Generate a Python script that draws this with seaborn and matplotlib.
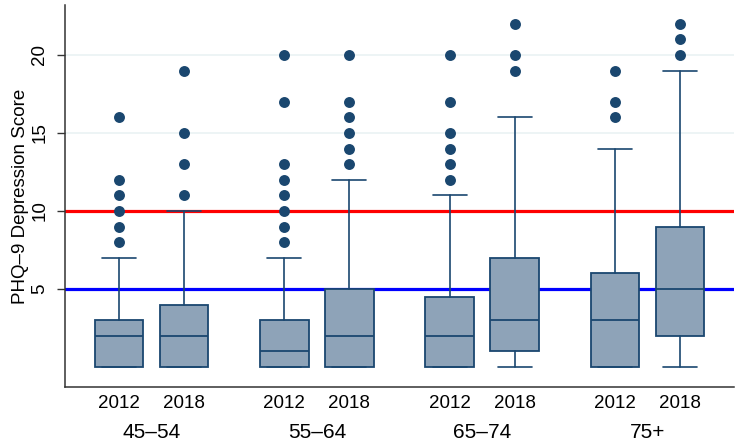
import numpy as np
import pandas as pd
import matplotlib
matplotlib.use("Agg")
import matplotlib.pyplot as plt
import seaborn as sns

# ---- data ----
age_groups = ["45–54", "55–64", "65–74", "75+"]
years = ["2012", "2018"]

# box stats in order: 45-54/2012, 45-54/2018, 55-64/2012, 55-64/2018, ...
q1 = [0, 0, 0, 0, 0, 1, 0, 2]
median = [2, 2, 1, 2, 2, 3, 3, 5]
q3 = [3, 4, 3, 5, 4.5, 7, 6, 9]
whisker_low = [0, 0, 0, 0, 0, 0, 0, 0]
whisker_high = [7, 10, 7, 12, 11, 16, 14, 19]
outliers = [
    [8, 9, 10, 11, 12, 16],
    [11, 13, 15, 19],
    [8, 9, 10, 11, 12, 13, 17, 20],
    [13, 14, 15, 16, 17, 20],
    [12, 13, 14, 15, 17, 20],
    [19, 20, 22],
    [16, 17, 19],
    [20, 21, 22],
]
threshold_moderate = 10
threshold_mild = 5
y_ticks = [5, 10, 15, 20]
y_label = "PHQ–9 Depression Score"

# ---- style ----
sns.set_style("white")
plt.rcParams["font.family"] = ["Liberation Sans", "DejaVu Sans"]
plt.rcParams["text.color"] = "black"
plt.rcParams["axes.labelcolor"] = "black"
plt.rcParams["xtick.color"] = "black"
plt.rcParams["ytick.color"] = "black"

navy = "#1A476F"
fill = "#8EA3B8"

fig = plt.figure(figsize=(7.43, 4.42), dpi=100)
ax = fig.add_axes([65 / 743, 1 - 387 / 442, (734 - 65) / 743, (387 - 5) / 442])

group_step = 2.543
positions = []
for g in range(len(age_groups)):
    for yi in range(len(years)):
        positions.append(g * group_step + yi)

stats = []
for i in range(len(positions)):
    stats.append(dict(q1=q1[i], med=median[i], q3=q3[i],
                      whislo=whisker_low[i], whishi=whisker_high[i], fliers=[]))

# reference lines and grid (behind boxes)
for v in y_ticks:
    ax.axhline(v, color="#EAF2F3", lw=1.2, zorder=0)
ax.axhline(threshold_moderate, color="#FF0000", lw=2.3, zorder=1)
ax.axhline(threshold_mild, color="#0000FF", lw=2.3, zorder=1)

ax.bxp(stats, positions=positions, widths=0.75, capwidths=0.52,
       patch_artist=True, showfliers=False,
       boxprops=dict(facecolor=fill, edgecolor=navy, linewidth=1.3),
       medianprops=dict(color=navy, linewidth=1.3),
       whiskerprops=dict(color=navy, linewidth=1.2),
       capprops=dict(color=navy, linewidth=1.2),
       zorder=3)

# outliers via seaborn
rows = []
for i, pts in enumerate(outliers):
    for p in pts:
        rows.append({"x": positions[i], "score": p})
df_out = pd.DataFrame(rows)
sns.scatterplot(data=df_out, x="x", y="score", ax=ax, color=navy, s=62,
                edgecolor=navy, linewidth=0, zorder=4, legend=False)

ax.set_xlim(-0.831, 9.46)
ax.set_ylim(-1.28, 23.2)

ax.set_xticks(positions)
ax.set_xticklabels([years[i % 2] for i in range(len(positions))], fontsize=13.5)
ax.tick_params(axis="x", length=0, pad=6)

ax.set_yticks(y_ticks)
ax.set_yticklabels([str(v) for v in y_ticks], fontsize=13.5, rotation=90, va="center")
ax.tick_params(axis="y", length=6, width=1, color="#333333", labelcolor="black",
               pad=6, left=True)

for g, name in enumerate(age_groups):
    ax.text(g * group_step + 0.5, -0.12, name, transform=ax.get_xaxis_transform(),
            ha="center", va="center", fontsize=15, color="black")

ax.set_xlabel("")
ax.set_ylabel(y_label, fontsize=13.5, labelpad=2, color="black")

for s in ["top", "right"]:
    ax.spines[s].set_visible(False)
for s in ["left", "bottom"]:
    ax.spines[s].set_color("#333333")
    ax.spines[s].set_linewidth(1.1)

fig.savefig("out.png", dpi=100, facecolor="white")
